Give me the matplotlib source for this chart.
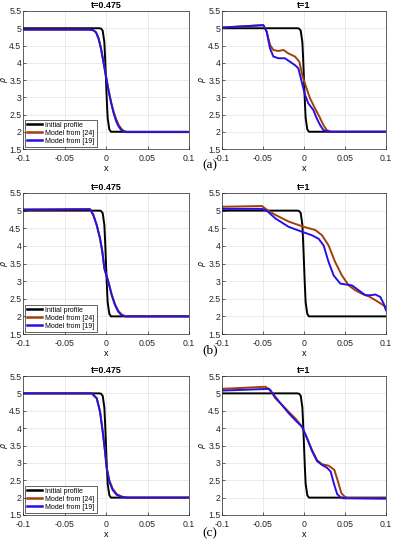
import numpy as np
import matplotlib.pyplot as plt

plt.rcParams['font.family'] = ['Liberation Sans', 'DejaVu Sans']

# initial profile (same in every panel)
x_init = [-0.1, -0.008, -0.006, -0.004, -0.002, -0.001, 0.0, 0.001, 0.002, 0.004, 0.006, 0.1]
y_init = [5.0, 5.0, 4.99, 4.93, 4.6, 4.1, 3.5, 2.9, 2.4, 2.07, 2.0, 2.0]

# (a) t=0.475
a1_x_24 = [-0.1, -0.02, -0.015, -0.012, -0.009, -0.006, -0.003, 0.0, 0.003, 0.006, 0.009, 0.012, 0.015, 0.018, 0.021, 0.025, 0.1]
a1_y_24 = [4.96, 4.96, 4.94, 4.88, 4.72, 4.42, 4.02, 3.62, 3.22, 2.88, 2.6, 2.38, 2.21, 2.1, 2.03, 1.99, 1.99]
a1_x_19 = [-0.1, -0.02, -0.015, -0.012, -0.009, -0.006, -0.003, 0.0, 0.003, 0.006, 0.009, 0.012, 0.015, 0.018, 0.021, 0.025, 0.1]
a1_y_19 = [4.96, 4.96, 4.94, 4.88, 4.7, 4.4, 4.0, 3.6, 3.2, 2.85, 2.55, 2.32, 2.16, 2.06, 2.01, 1.99, 1.99]

# (a) t=1
a2_x_24 = [-0.1, -0.0496, -0.0455, -0.0415, -0.0374, -0.0313, -0.025, -0.019, -0.011, -0.0057, -0.0016,
           0.0024, 0.0073, 0.0134, 0.0187, 0.0235, 0.0276, 0.033, 0.1]
a2_y_24 = [5.02, 5.09, 4.9, 4.52, 4.37, 4.34, 4.37, 4.27, 4.18, 4.03, 3.6,
           3.31, 2.97, 2.68, 2.44, 2.2, 2.05, 2.0, 2.0]
a2_x_19 = [-0.1, -0.0496, -0.0455, -0.0415, -0.0374, -0.0313, -0.0232, -0.0171, -0.011, -0.0069, -0.0028,
           0.0012, 0.0053, 0.0114, 0.0155, 0.0195, 0.0235, 0.03, 0.1]
a2_y_19 = [5.02, 5.09, 4.9, 4.42, 4.18, 4.13, 4.13, 4.03, 3.93, 3.84, 3.45,
           3.07, 2.82, 2.63, 2.39, 2.2, 2.05, 2.0, 2.0]

# (b) t=0.475
b1_x_24 = [-0.1, -0.0193, -0.0153, -0.0112, -0.0072, -0.0044, -0.002, 0.0028, 0.0069, 0.0108, 0.0148, 0.0189, 0.024, 0.1]
b1_y_24 = [5.03, 5.04, 4.88, 4.59, 4.21, 3.83, 3.36, 2.99, 2.62, 2.35, 2.16, 2.05, 2.0, 2.0]
b1_x_19 = [-0.1, -0.0193, -0.0153, -0.0112, -0.0072, -0.0044, -0.002, 0.0028, 0.0069, 0.0108, 0.0148, 0.0189, 0.023, 0.1]
b1_y_19 = [5.03, 5.04, 4.88, 4.59, 4.21, 3.83, 3.36, 2.98, 2.6, 2.32, 2.13, 2.03, 2.0, 2.0]

# (b) t=1
b2_x_24 = [-0.1, -0.0512, -0.045, -0.035, -0.0187, -0.0004, 0.0138, 0.022, 0.030, 0.038, 0.0463,
           0.0545, 0.0626, 0.0707, 0.0789, 0.087, 0.0951, 0.1]
b2_y_24 = [5.11, 5.13, 5.02, 4.88, 4.69, 4.54, 4.45, 4.3, 4.01, 3.54, 3.16,
           2.88, 2.74, 2.64, 2.57, 2.46, 2.34, 2.27]
b2_x_19 = [-0.1, -0.051, -0.045, -0.035, -0.0187, -0.0024, 0.0098, 0.0179, 0.024, 0.030, 0.0362,
           0.0443, 0.0524, 0.0585, 0.0667, 0.0748, 0.081, 0.087, 0.0931, 0.0972, 0.1]
b2_y_19 = [5.05, 5.05, 4.99, 4.78, 4.54, 4.4, 4.3, 4.2, 4.01, 3.54, 3.16,
           2.93, 2.9, 2.88, 2.74, 2.6, 2.6, 2.62, 2.55, 2.36, 2.17]

# (c) t=0.475
c1_x_24 = [-0.1, -0.0172, -0.0112, -0.0072, -0.004, -0.0012, 0.0008, 0.004, 0.008, 0.0129, 0.019, 0.026, 0.1]
c1_y_24 = [5.0, 5.0, 4.86, 4.48, 3.92, 3.35, 2.88, 2.5, 2.26, 2.1, 2.03, 2.0, 2.0]
c1_x_19 = [-0.1, -0.0172, -0.0112, -0.0072, -0.004, -0.0012, 0.0008, 0.004, 0.008, 0.0129, 0.0189, 0.025, 0.1]
c1_y_19 = [5.0, 5.0, 4.86, 4.47, 3.9, 3.32, 2.84, 2.46, 2.22, 2.08, 2.02, 2.0, 2.0]

# (c) t=1
c2_x_24 = [-0.1, -0.0472, -0.041, -0.035, -0.0268, -0.0187, -0.0106, -0.0024, 0.0037, 0.0098, 0.0159,
           0.022, 0.030, 0.037, 0.0415, 0.0455, 0.0495, 0.053, 0.1]
c2_y_24 = [5.13, 5.19, 5.1, 4.86, 4.67, 4.47, 4.28, 4.04, 3.71, 3.37, 3.08,
           2.96, 2.92, 2.8, 2.46, 2.13, 2.03, 1.99, 1.98]
c2_x_19 = [-0.1, -0.043, -0.037, -0.0289, -0.0187, -0.0106, -0.0024, 0.0037, 0.0098, 0.0159, 0.022,
           0.028, 0.0325, 0.0365, 0.0405, 0.0445, 0.048, 0.1]
c2_y_19 = [5.08, 5.13, 4.96, 4.72, 4.43, 4.23, 4.04, 3.71, 3.34, 3.05, 2.94,
           2.86, 2.75, 2.4, 2.1, 2.01, 1.98, 1.97]

panels = [
    ("t=0.475", a1_x_24, a1_y_24, a1_x_19, a1_y_19, True),
    ("t=1", a2_x_24, a2_y_24, a2_x_19, a2_y_19, False),
    ("t=0.475", b1_x_24, b1_y_24, b1_x_19, b1_y_19, True),
    ("t=1", b2_x_24, b2_y_24, b2_x_19, b2_y_19, False),
    ("t=0.475", c1_x_24, c1_y_24, c1_x_19, c1_y_19, True),
    ("t=1", c2_x_24, c2_y_24, c2_x_19, c2_y_19, False),
]

row_labels = ["(a)", "(b)", "(c)"]

RED = "#a0400c"
BLUE = "#2a10e0"

W, H = 393, 550
fig = plt.figure(figsize=(W / 100, H / 100), dpi=100)

# axes boxes in pixels: (left, right), (top, bottom)
cols_px = [(23, 189), (222, 386)]
rows_px = [(11, 149), (193, 334), (376, 515)]
label_y = [165, 350, 533]

for i, (title, x24, y24, x19, y19, show_leg) in enumerate(panels):
    r, c = divmod(i, 2)
    l, rr = cols_px[c]
    t, b = rows_px[r]
    ax = fig.add_axes([l / W, 1 - b / H, (rr - l) / W, (b - t) / H])
    ax.plot(x_init, y_init, color="black", lw=1.4, label="Initial profile")
    ax.plot(x24, y24, color=RED, lw=1.4, label="Model from [24]")
    ax.plot(x19, y19, color=BLUE, lw=1.4, label="Model from [19]")
    ax.set_xlim(-0.1, 0.1)
    ax.set_ylim(1.5, 5.5)
    ax.set_xticks([-0.1, -0.05, 0, 0.05, 0.1])
    ax.set_xticklabels(["-0.1", "-0.05", "0", "0.05", "0.1"])
    ax.set_yticks(np.arange(1.5, 5.6, 0.5))
    ax.set_yticklabels(["1.5", "2", "2.5", "3", "3.5", "4", "4.5", "5", "5.5"])
    ax.grid(True, color="#e6e6e6", lw=0.6)
    ax.set_axisbelow(True)
    ax.tick_params(direction="in", length=2, width=0.5, labelsize=6.3, pad=1.2, colors="#262626")
    ax.tick_params(axis="x", pad=3.5)
    for s in ax.spines.values():
        s.set_color("#262626")
        s.set_linewidth(0.5)
    ax.set_title(title, fontsize=6.5, fontweight="bold", pad=2)
    ax.set_xlabel("x", fontsize=6.5, labelpad=0.5)
    ax.set_ylabel(r"$\rho$", fontsize=5.5, va="center")
    ax.yaxis.set_label_coords((5 - l) / (rr - l) if c == 0 else (202 - l) / (rr - l), 0.5)
    if show_leg:
        leg = ax.legend(loc="lower left", fontsize=5, handlelength=2.2, handletextpad=0.4,
                        borderpad=0.3, labelspacing=0.15, borderaxespad=0.3, fancybox=False,
                        framealpha=1)
        leg.get_frame().set_edgecolor("#262626")
        leg.get_frame().set_linewidth(0.5)
        for ln in leg.get_lines():
            ln.set_linewidth(1.8)
    if c == 1:
        fig.text(210 / W, 1 - label_y[r] / H, row_labels[r], ha="center", va="center",
                 fontsize=9.5, family=["Liberation Serif", "DejaVu Serif"])

fig.savefig("out.png", dpi=100)
